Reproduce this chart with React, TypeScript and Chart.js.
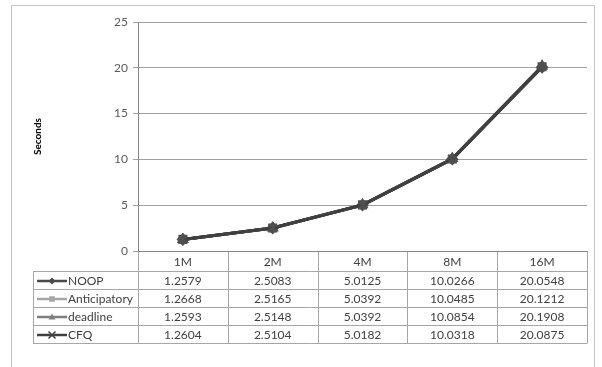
import React, { useEffect, useRef } from "react";
import { Chart, registerables } from "chart.js";

Chart.register(...registerables);

const categories = ["1M", "2M", "4M", "8M", "16M"];
const seriesNames = ["NOOP", "Anticipatory", "deadline", "CFQ"];
const noop = [1.2579, 2.5083, 5.0125, 10.0266, 20.0548];
const anticipatory = [1.2668, 2.5165, 5.0392, 10.0485, 20.1212];
const deadline = [1.2593, 2.5148, 5.0392, 10.0854, 20.1908];
const cfq = [1.2604, 2.5104, 5.0182, 10.0318, 20.0875];
const yTicks = [0, 5, 10, 15, 20, 25];

const seriesValues = [noop, anticipatory, deadline, cfq];
const seriesColors = ["#4a4a4a", "#a6a6a6", "#7f7f7f", "#404040"];
const seriesMarkers = ["rectRot", "rect", "triangle", "crossRot"];

const FONT = "Lato, 'Open Sans', sans-serif";

function drawMarker(ctx: CanvasRenderingContext2D, style: string, x: number, y: number, r: number, color: string) {
  ctx.save();
  ctx.fillStyle = color;
  ctx.strokeStyle = color;
  ctx.lineWidth = 1.5;
  ctx.beginPath();
  if (style === "rectRot") {
    ctx.moveTo(x, y - r);
    ctx.lineTo(x + r, y);
    ctx.lineTo(x, y + r);
    ctx.lineTo(x - r, y);
    ctx.closePath();
    ctx.fill();
  } else if (style === "rect") {
    ctx.rect(x - r * 0.8, y - r * 0.8, r * 1.6, r * 1.6);
    ctx.fill();
  } else if (style === "triangle") {
    ctx.moveTo(x, y - r);
    ctx.lineTo(x + r, y + r * 0.7);
    ctx.lineTo(x - r, y + r * 0.7);
    ctx.closePath();
    ctx.fill();
  } else {
    ctx.moveTo(x - r, y - r);
    ctx.lineTo(x + r, y + r);
    ctx.moveTo(x + r, y - r);
    ctx.lineTo(x - r, y + r);
    ctx.stroke();
  }
  ctx.restore();
}

const tablePlugin = {
  id: "dataTable",
  beforeDraw(chart: any) {
    const ctx = chart.ctx as CanvasRenderingContext2D;
    ctx.save();
    ctx.fillStyle = "#ffffff";
    ctx.fillRect(0, 0, chart.width, chart.height);
    ctx.strokeStyle = "#c4c4c4";
    ctx.lineWidth = 1;
    ctx.strokeRect(11.5, 5.5, 583, 400);
    ctx.restore();
  },
  afterDraw(chart: any) {
    const ctx = chart.ctx as CanvasRenderingContext2D;
    const xs = chart.scales.x;
    const area = chart.chartArea;
    const n = categories.length;
    const colW = (area.right - area.left) / n;
    const top = Math.round(area.bottom);
    const headerH = 20;
    const rowH = 18;
    const legendLeft = 33;
    const rowsTop = top + headerH;
    const bottom = rowsTop + rowH * seriesNames.length;

    ctx.save();
    ctx.lineWidth = 1;
    ctx.strokeStyle = "#a6a6a6";
    for (let i = 0; i <= n; i++) {
      const x = Math.round(area.left + i * colW) + 0.5;
      ctx.beginPath();
      ctx.moveTo(x, top);
      ctx.lineTo(x, bottom);
      ctx.stroke();
    }
    ctx.beginPath();
    ctx.moveTo(legendLeft + 0.5, rowsTop);
    ctx.lineTo(legendLeft + 0.5, bottom + 0.5);
    ctx.stroke();
    for (let r = 0; r <= seriesNames.length; r++) {
      const y = rowsTop + r * rowH + 0.5;
      ctx.beginPath();
      ctx.moveTo(legendLeft, y);
      ctx.lineTo(area.right + 0.5, y);
      ctx.stroke();
    }
    ctx.fillStyle = "#404040";
    ctx.font = `12px ${FONT}`;
    ctx.textAlign = "center";
    ctx.textBaseline = "middle";
    categories.forEach((c, i) => {
      const cx = xs.getPixelForValue(i);
      ctx.fillText(c, cx, top + headerH / 2 + 1);
    });
    seriesNames.forEach((name, r) => {
      const cy = rowsTop + r * rowH + rowH / 2 + 1;
      ctx.strokeStyle = seriesColors[r];
      ctx.lineWidth = 2.5;
      ctx.beginPath();
      ctx.moveTo(37, cy);
      ctx.lineTo(67, cy);
      ctx.stroke();
      drawMarker(ctx, seriesMarkers[r], 52, cy, 3.5, seriesColors[r]);
      ctx.fillStyle = "#404040";
      ctx.textAlign = "left";
      ctx.fillText(name, 68, cy);
      ctx.textAlign = "center";
      seriesValues[r].forEach((v, i) => {
        const cx = xs.getPixelForValue(i);
        ctx.fillText(String(v), cx, cy);
      });
    });
    ctx.strokeStyle = "#868686";
    ctx.lineWidth = 1;
    ctx.beginPath();
    ctx.moveTo(area.left, top + 0.5);
    ctx.lineTo(area.right + 0.5, top + 0.5);
    ctx.stroke();
    ctx.restore();
  },
};

export default function App() {
  const ref = useRef<HTMLCanvasElement | null>(null);
  useEffect(() => {
    if (!ref.current) return;
    const order = [4, 3, 2, 1];
    const chart = new Chart(ref.current, {
      type: "line",
      data: {
        labels: categories,
        datasets: seriesNames.map((name, i) => ({
          label: name,
          data: seriesValues[i],
          borderColor: "#404040",
          backgroundColor: "#505050",
          pointBorderColor: "#505050",
          pointBackgroundColor: "#505050",
          borderWidth: 3,
          pointStyle: seriesMarkers[i] as any,
          pointRadius: 5,
          pointBorderWidth: 2,
          tension: 0,
          order: order[i],
        })),
      },
      options: {
        responsive: false,
        animation: false,
        devicePixelRatio: 1,
        layout: { padding: { left: 0, right: 15, top: 22, bottom: 0 } },
        plugins: { legend: { display: false }, tooltip: { enabled: false } },
        scales: {
          x: {
            offset: true,
            grid: { display: false, drawTicks: false },
            border: { display: false },
            ticks: { display: false },
            afterFit(scale: any) {
              scale.height = 116;
            },
          },
          y: {
            min: 0,
            max: 25,
            afterBuildTicks(scale: any) {
              scale.ticks = yTicks.map((v) => ({ value: v }));
            },
            grid: { color: "#a0a0a0", tickLength: 5, lineWidth: 1 },
            border: { display: true, color: "#868686", width: 1 },
            ticks: { color: "#595959", padding: 5, font: { family: FONT, size: 12 } },
            title: {
              display: true,
              text: "Seconds",
              color: "#000000",
              font: { family: FONT, size: 10, weight: "bold" },
              padding: { top: 32, bottom: 0 },
            },
            afterFit(scale: any) {
              scale.width = 138;
            },
          },
        },
      },
      plugins: [tablePlugin],
    });
    return () => chart.destroy();
  }, []);
  return (
    <canvas
      ref={ref}
      width={602}
      height={367}
      style={{ position: "fixed", left: 0, top: 0, width: 602, height: 367, display: "block" }}
    />
  );
}
